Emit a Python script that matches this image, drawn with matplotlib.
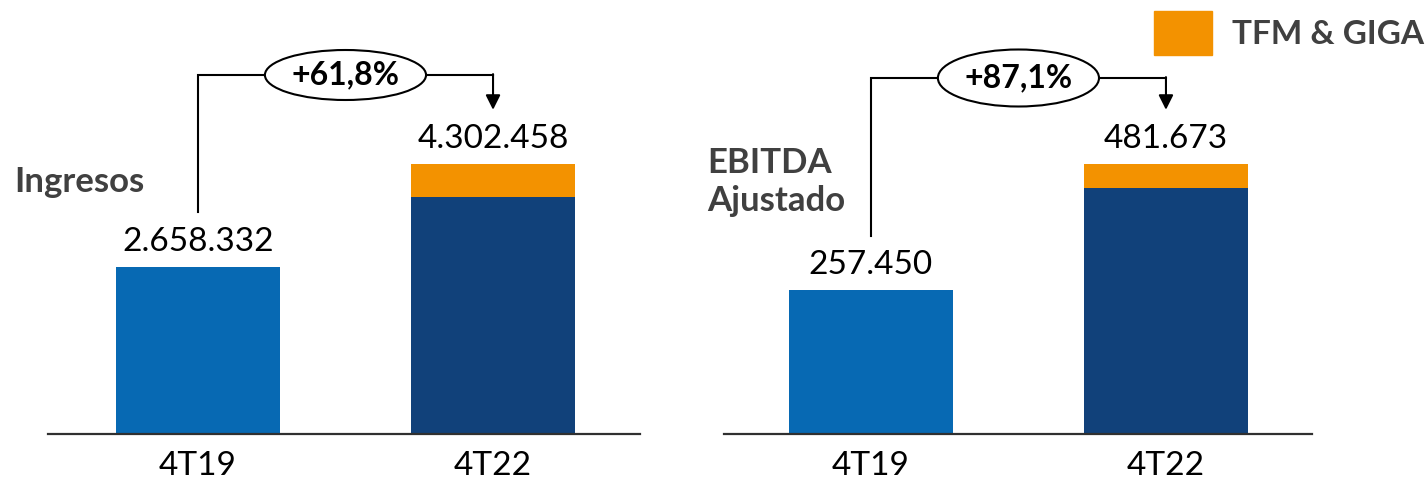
import matplotlib.pyplot as plt
import matplotlib.transforms as mtransforms
from matplotlib.patches import Ellipse, Patch

plt.rcParams["font.family"] = ["Lato", "DejaVu Sans"]

periods = ["4T19", "4T22"]

ingresos_total = [2658332, 4302458]
ingresos_tfm = [0, 525900]
ingresos_growth = "+61,8%"

ebitda_total = [257450, 481673]
ebitda_tfm = [0, 42800]
ebitda_growth = "+87,1%"

c_prev = "#0769b3"
c_curr = "#11417a"
c_tfm = "#f39200"
c_gray = "#404040"


def fmt(v):
    return f"{v:,}".replace(",", ".")


def panel(ax, totals, tfm, growth, ymax, xlim, bracket_y, stem_bottom, ell_h):
    base = [t - s for t, s in zip(totals, tfm)]
    ax.bar(0, base[0], width=0.556, color=c_prev)
    ax.bar(1, base[1], width=0.556, color=c_curr)
    ax.bar(1, tfm[1], bottom=base[1], width=0.556, color=c_tfm)
    for x, t in zip([0, 1], totals):
        ax.annotate(fmt(t), (x, t), xytext=(0, 7), textcoords="offset points",
                    ha="center", va="bottom", fontsize=24, color="black")
    ax.set_xlim(*xlim)
    ax.set_ylim(0, ymax)
    ax.set_xticks([0, 1], periods, fontsize=24)
    ax.tick_params(axis="x", length=0, pad=12)
    ax.set_yticks([])
    for s in ["top", "left", "right"]:
        ax.spines[s].set_visible(False)
    ax.spines["bottom"].set_linewidth(1.6)
    ax.spines["bottom"].set_color("#303030")

    # growth bracket: x in data, y in axes fraction
    tr = mtransforms.blended_transform_factory(ax.transData, ax.transAxes)
    ex, ew = 0.5, 0.546
    ax.plot([0, 0, ex - ew / 2], [stem_bottom, bracket_y, bracket_y], color="black",
            lw=1.5, transform=tr, clip_on=False, solid_joinstyle="miter")
    ax.plot([ex + ew / 2, 1], [bracket_y, bracket_y], color="black",
            lw=1.5, transform=tr, clip_on=False)
    ax.annotate("", xy=(1, 0.747), xycoords=tr, xytext=(1, bracket_y + 0.002), textcoords=tr,
                arrowprops=dict(arrowstyle="-|>", color="black", lw=1.5,
                                mutation_scale=22, shrinkA=0, shrinkB=0))
    ax.add_patch(Ellipse((ex, bracket_y), ew, ell_h, transform=tr, facecolor="white",
                         edgecolor="black", lw=1.5, clip_on=False, zorder=3))
    ax.text(ex, bracket_y, growth, transform=tr, ha="center", va="center",
            fontsize=23, fontweight="bold", zorder=4)


fig = plt.figure(figsize=(14.26, 4.79), dpi=100)
W, H = 1426, 479

ax1 = fig.add_axes([48 / W, (H - 434) / H, (640 - 48) / W, 434 / H])
panel(ax1, ingresos_total, ingresos_tfm, ingresos_growth,
      ymax=434 / (270 / ingresos_total[1]), xlim=(-0.508, 1.498),
      bracket_y=(434 - 75) / 434, stem_bottom=(434 - 212) / 434, ell_h=50 / 434)

ax2 = fig.add_axes([724 / W, (H - 434) / H, (1312 - 724) / W, 434 / H])
panel(ax2, ebitda_total, ebitda_tfm, ebitda_growth,
      ymax=434 / (270 / ebitda_total[1]), xlim=(-0.498, 1.495),
      bracket_y=(434 - 78) / 434, stem_bottom=(434 - 236) / 434, ell_h=57 / 434)

fig.text(14 / W, 1 - 182 / H, "Ingresos", ha="left", va="center",
         fontsize=25, fontweight="bold", color=c_gray)
fig.text(707 / W, 1 - 182 / H, "EBITDA\nAjustado", ha="left", va="center",
         fontsize=25, fontweight="bold", color=c_gray, linespacing=1.25)

fig.legend(handles=[Patch(color=c_tfm, label="TFM & GIGA")], loc="upper right",
           bbox_to_anchor=(1424 / W, 1 - 11 / H), frameon=False,
           borderaxespad=0, borderpad=0,
           handlelength=1.75, handleheight=1.65, handletextpad=0.6,
           prop={"weight": "bold", "size": 24}, labelcolor=c_gray)

fig.savefig("out.png", dpi=100)
